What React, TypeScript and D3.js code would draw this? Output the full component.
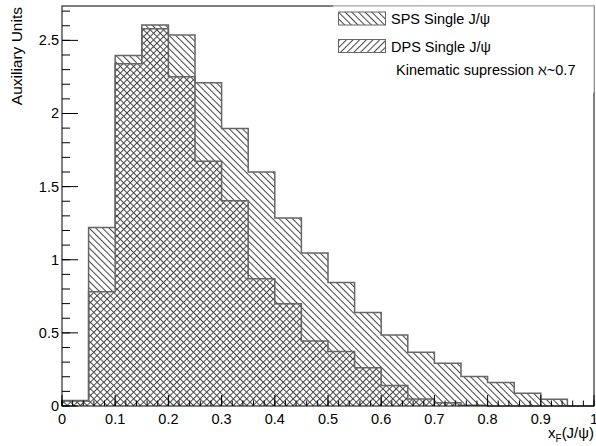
import React from "react";
import * as d3 from "d3";

const binLow = [0, 0.05, 0.1, 0.15, 0.2, 0.25, 0.3, 0.35, 0.4, 0.45, 0.5, 0.55, 0.6, 0.65, 0.7, 0.75, 0.8, 0.85, 0.9, 0.95];
const binWidth = 0.05;
const spsValues = [0.037, 1.221, 2.397, 2.605, 2.536, 2.21, 1.897, 1.6, 1.286, 1.046, 0.845, 0.639, 0.486, 0.368, 0.292, 0.201, 0.16, 0.087, 0.046, 0.0];
const dpsValues = [0.035, 0.781, 2.34, 2.58, 2.251, 1.673, 1.404, 0.87, 0.699, 0.445, 0.372, 0.262, 0.14, 0.048, 0.023, 0.005, 0, 0, 0, 0];
const xMajor = [0, 0.1, 0.2, 0.3, 0.4, 0.5, 0.6, 0.7, 0.8, 0.9, 1];
const xMajorLabels = ["0", "0.1", "0.2", "0.3", "0.4", "0.5", "0.6", "0.7", "0.8", "0.9", "1"];
const yMajor = [0, 0.5, 1, 1.5, 2, 2.5];
const yMajorLabels = ["0", "0.5", "1", "1.5", "2", "2.5"];
const xMinorStep = 0.02;
const yMinorStep = 0.1;
const legendLabels = ["SPS Single J/\u03c8", "DPS Single J/\u03c8", "Kinematic supression \u2135~0.7"];

const W = 596, H = 446;
const FONT = "'Liberation Sans', Arial, Helvetica, sans-serif";

export default function App() {
  const x = d3.scaleLinear().domain([0, 1]).range([62, 594]);
  const y = d3.scaleLinear().domain([0, 2.735]).range([406, 6]);

  const stepPts = (vals: number[]) => {
    const pts: [number, number][] = [[x(binLow[0]), y(0)]];
    vals.forEach((v, i) => {
      pts.push([x(binLow[i]), y(v)]);
      pts.push([x(binLow[i] + binWidth), y(v)]);
    });
    pts.push([x(binLow[binLow.length - 1] + binWidth), y(0)]);
    return pts;
  };
  const line = d3.line<[number, number]>();

  const xMinor: number[] = [];
  for (let i = 0; i <= 50; i++) xMinor.push(i * xMinorStep);
  const yMinor: number[] = [];
  for (let i = 0; i <= 27; i++) yMinor.push(i * yMinorStep);

  const hatchColor = "#444";
  const outline = "#666";
  const sp = 4.7;

  return (
    <svg width={W} height={H} style={{ position: "absolute", left: 0, top: 0, background: "#fff" }} fontFamily={FONT}>
      <defs>
        <pattern id="hatchBack" patternUnits="userSpaceOnUse" width={sp} height={sp} patternTransform="rotate(-45)">
          <line x1="0.5" y1="0" x2="0.5" y2={sp} stroke={hatchColor} strokeWidth="1" />
        </pattern>
        <pattern id="hatchFwd" patternUnits="userSpaceOnUse" width={sp} height={sp} patternTransform="rotate(45)">
          <line x1="0.5" y1="0" x2="0.5" y2={sp} stroke={hatchColor} strokeWidth="1" />
        </pattern>
      </defs>
      <rect x={0} y={0} width={W} height={H} fill="#fff" />

      {/* SPS bins */}
      <g>
        {spsValues.map((v, i) => (
          <rect key={"s" + i} x={x(binLow[i])} y={y(v)} width={x(binLow[i] + binWidth) - x(binLow[i])} height={y(0) - y(v)} fill="url(#hatchBack)" />
        ))}
      </g>
      {/* DPS bins */}
      <g>
        {dpsValues.map((v, i) => (
          <rect key={"d" + i} x={x(binLow[i])} y={y(v)} width={x(binLow[i] + binWidth) - x(binLow[i])} height={y(0) - y(v)} fill="url(#hatchFwd)" />
        ))}
      </g>
      <path d={line(stepPts(spsValues)) || ""} fill="none" stroke={outline} strokeWidth={1.5} />
      <path d={line(stepPts(dpsValues)) || ""} fill="none" stroke={outline} strokeWidth={1.5} />

      {/* Frame */}
      <rect x={62} y={6} width={532} height={400} fill="none" stroke="#000" strokeWidth={1} />

      {/* X ticks */}
      {xMinor.map((t, i) => (
        <line key={"xm" + i} x1={x(t)} x2={x(t)} y1={406} y2={400.5} stroke="#000" strokeWidth={1} />
      ))}
      {xMajor.map((t, i) => (
        <line key={"xM" + i} x1={x(t)} x2={x(t)} y1={406} y2={395} stroke="#000" strokeWidth={1} />
      ))}
      {xMajor.map((t, i) => (
        <text key={"xl" + i} x={x(t)} y={423.5} fontSize={14.5} textAnchor="middle" fill="#000">{xMajorLabels[i]}</text>
      ))}

      {/* Y ticks */}
      {yMinor.map((t, i) => (
        <line key={"ym" + i} x1={62} x2={70} y1={y(t)} y2={y(t)} stroke="#000" strokeWidth={1} />
      ))}
      {yMajor.map((t, i) => (
        <line key={"yM" + i} x1={62} x2={78} y1={y(t)} y2={y(t)} stroke="#000" strokeWidth={1} />
      ))}
      {yMajor.map((t, i) => (
        <text key={"yl" + i} x={59} y={y(t) + 5} fontSize={14.5} textAnchor="end" fill="#000">{yMajorLabels[i]}</text>
      ))}

      {/* Axis titles */}
      <text transform="translate(21.5,7) rotate(-90)" fontSize={15.5} textAnchor="end" fill="#000">Auxiliary Units</text>
      <text x={594} y={438} fontSize={15} textAnchor="end" fill="#000">
        x<tspan fontSize={10} dy={4}>F</tspan><tspan dy={-4}>(J/{"\u03c8"})</tspan>
      </text>

      {/* Legend */}
      <rect x={333} y={5.5} width={261} height={87} fill="#fff" />
      <line x1={333} x2={594} y1={6} y2={6} stroke="#aaa" strokeWidth={1} />
      <line x1={594} x2={594} y1={6} y2={92} stroke="#aaa" strokeWidth={1} />
      <rect x={338.5} y={12} width={47} height={13} fill="url(#hatchBack)" stroke={outline} strokeWidth={1} />
      <rect x={338.5} y={39.5} width={47} height={13} fill="url(#hatchFwd)" stroke={outline} strokeWidth={1} />
      <text x={391} y={24} fontSize={14.5} fill="#000">{legendLabels[0]}</text>
      <text x={391} y={52} fontSize={14.5} fill="#000">{legendLabels[1]}</text>
      <text x={396} y={74.5} fontSize={14.5} fill="#000">{legendLabels[2]}</text>
    </svg>
  );
}
